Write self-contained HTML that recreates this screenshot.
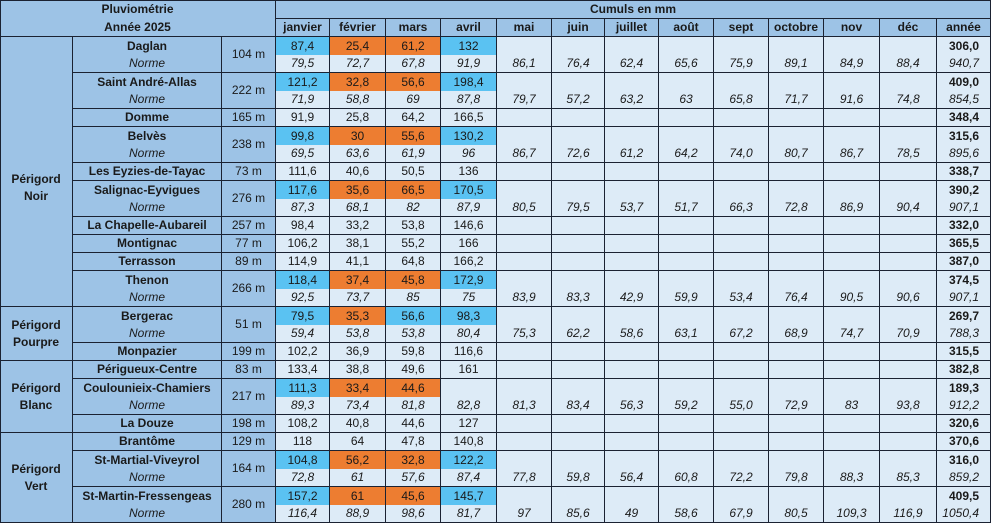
<!DOCTYPE html>
<html><head><meta charset="utf-8">
<style>
body{margin:0;background:#fff;width:992px;height:525px;overflow:hidden;font-family:"Liberation Sans",Arial,sans-serif;font-size:12px;color:#1a1a1a;position:relative}
.g{position:absolute;left:0;top:0;display:grid;grid-template-columns:73px 149px 54px 54px 56px 55px 56px 55px 53px 54px 55px 55px 55px 56px 57px 54px;grid-template-rows:19px 18px repeat(27,18px);}
.g>div{box-sizing:border-box;border-right:1px solid #1b2232;border-bottom:1px solid #1b2232;display:flex;align-items:center;justify-content:center;white-space:nowrap;line-height:17px;overflow:hidden;text-align:center}
.g>div.x{border-bottom:none}
.h{background:#9dc3e6;font-weight:bold}
.s{background:#9dc3e6}
.d{background:#ddebf7}
.u{background:#5ac2f2}
.o{background:#ed7d31}
.i{font-style:italic}
.b{font-weight:bold}
.r{grid-row:span 2}
.g>div.m{align-items:flex-end}
.g>div.t{justify-content:flex-end;padding-right:11px}
.ln{position:absolute;background:#1b2232}
</style></head><body>
<div class="g">
<div class="h x" style="grid-column:span 3">Pluviométrie</div>
<div class="h" style="grid-column:span 13">Cumuls en mm</div>
<div class="h" style="grid-column:span 3">Année 2025</div>
<div class="h">janvier</div><div class="h">février</div><div class="h">mars</div><div class="h">avril</div><div class="h">mai</div><div class="h">juin</div><div class="h">juillet</div><div class="h">août</div><div class="h">sept</div><div class="h">octobre</div><div class="h">nov</div><div class="h">déc</div><div class="h">année</div>

<div class="s b" style="grid-row:span 15;padding-top:32px">Périgord<br>Noir</div>
<!-- Daglan -->
<div class="s b x">Daglan</div><div class="s r">104 m</div><div class="u x">87,4</div><div class="o x">25,4</div><div class="o x">61,2</div><div class="u x">132</div>
<div class="d i r m">86,1</div><div class="d i r m">76,4</div><div class="d i r m">62,4</div><div class="d i r m">65,6</div><div class="d i r m">75,9</div><div class="d i r m">89,1</div><div class="d i r m">84,9</div><div class="d i r m">88,4</div><div class="d b t x">306,0</div>
<div class="s i">Norme</div><div class="d i">79,5</div><div class="d i">72,7</div><div class="d i">67,8</div><div class="d i">91,9</div><div class="d i t">940,7</div>
<!-- Saint André -->
<div class="s b x">Saint André-Allas</div><div class="s r">222 m</div><div class="u x">121,2</div><div class="o x">32,8</div><div class="o x">56,6</div><div class="u x">198,4</div>
<div class="d i r m">79,7</div><div class="d i r m">57,2</div><div class="d i r m">63,2</div><div class="d i r m">63</div><div class="d i r m">65,8</div><div class="d i r m">71,7</div><div class="d i r m">91,6</div><div class="d i r m">74,8</div><div class="d b t x">409,0</div>
<div class="s i">Norme</div><div class="d i">71,9</div><div class="d i">58,8</div><div class="d i">69</div><div class="d i">87,8</div><div class="d i t">854,5</div>
<!-- Domme -->
<div class="s b">Domme</div><div class="s">165 m</div><div class="d">91,9</div><div class="d">25,8</div><div class="d">64,2</div><div class="d">166,5</div>
<div class="d"></div><div class="d"></div><div class="d"></div><div class="d"></div><div class="d"></div><div class="d"></div><div class="d"></div><div class="d"></div><div class="d b t">348,4</div>
<!-- Belvès -->
<div class="s b x">Belvès</div><div class="s r">238 m</div><div class="u x">99,8</div><div class="o x">30</div><div class="o x">55,6</div><div class="u x">130,2</div>
<div class="d i r m">86,7</div><div class="d i r m">72,6</div><div class="d i r m">61,2</div><div class="d i r m">64,2</div><div class="d i r m">74,0</div><div class="d i r m">80,7</div><div class="d i r m">86,7</div><div class="d i r m">78,5</div><div class="d b t x">315,6</div>
<div class="s i">Norme</div><div class="d i">69,5</div><div class="d i">63,6</div><div class="d i">61,9</div><div class="d i">96</div><div class="d i t">895,6</div>
<!-- Les Eyzies -->
<div class="s b">Les Eyzies-de-Tayac</div><div class="s">73 m</div><div class="d">111,6</div><div class="d">40,6</div><div class="d">50,5</div><div class="d">136</div>
<div class="d"></div><div class="d"></div><div class="d"></div><div class="d"></div><div class="d"></div><div class="d"></div><div class="d"></div><div class="d"></div><div class="d b t">338,7</div>
<!-- Salignac -->
<div class="s b x">Salignac-Eyvigues</div><div class="s r">276 m</div><div class="u x">117,6</div><div class="o x">35,6</div><div class="o x">66,5</div><div class="u x">170,5</div>
<div class="d i r m">80,5</div><div class="d i r m">79,5</div><div class="d i r m">53,7</div><div class="d i r m">51,7</div><div class="d i r m">66,3</div><div class="d i r m">72,8</div><div class="d i r m">86,9</div><div class="d i r m">90,4</div><div class="d b t x">390,2</div>
<div class="s i">Norme</div><div class="d i">87,3</div><div class="d i">68,1</div><div class="d i">82</div><div class="d i">87,9</div><div class="d i t">907,1</div>
<!-- La Chapelle -->
<div class="s b">La Chapelle-Aubareil</div><div class="s">257 m</div><div class="d">98,4</div><div class="d">33,2</div><div class="d">53,8</div><div class="d">146,6</div>
<div class="d"></div><div class="d"></div><div class="d"></div><div class="d"></div><div class="d"></div><div class="d"></div><div class="d"></div><div class="d"></div><div class="d b t">332,0</div>
<!-- Montignac -->
<div class="s b">Montignac</div><div class="s">77 m</div><div class="d">106,2</div><div class="d">38,1</div><div class="d">55,2</div><div class="d">166</div>
<div class="d"></div><div class="d"></div><div class="d"></div><div class="d"></div><div class="d"></div><div class="d"></div><div class="d"></div><div class="d"></div><div class="d b t">365,5</div>
<!-- Terrasson -->
<div class="s b">Terrasson</div><div class="s">89 m</div><div class="d">114,9</div><div class="d">41,1</div><div class="d">64,8</div><div class="d">166,2</div>
<div class="d"></div><div class="d"></div><div class="d"></div><div class="d"></div><div class="d"></div><div class="d"></div><div class="d"></div><div class="d"></div><div class="d b t">387,0</div>
<!-- Thenon -->
<div class="s b x">Thenon</div><div class="s r">266 m</div><div class="u x">118,4</div><div class="o x">37,4</div><div class="o x">45,8</div><div class="u x">172,9</div>
<div class="d i r m">83,9</div><div class="d i r m">83,3</div><div class="d i r m">42,9</div><div class="d i r m">59,9</div><div class="d i r m">53,4</div><div class="d i r m">76,4</div><div class="d i r m">90,5</div><div class="d i r m">90,6</div><div class="d b t x">374,5</div>
<div class="s i">Norme</div><div class="d i">92,5</div><div class="d i">73,7</div><div class="d i">85</div><div class="d i">75</div><div class="d i t">907,1</div>

<div class="s b" style="grid-row:span 3">Périgord<br>Pourpre</div>
<!-- Bergerac -->
<div class="s b x">Bergerac</div><div class="s r">51 m</div><div class="u x">79,5</div><div class="o x">35,3</div><div class="u x">56,6</div><div class="u x">98,3</div>
<div class="d i r m">75,3</div><div class="d i r m">62,2</div><div class="d i r m">58,6</div><div class="d i r m">63,1</div><div class="d i r m">67,2</div><div class="d i r m">68,9</div><div class="d i r m">74,7</div><div class="d i r m">70,9</div><div class="d b t x">269,7</div>
<div class="s i">Norme</div><div class="d i">59,4</div><div class="d i">53,8</div><div class="d i">53,8</div><div class="d i">80,4</div><div class="d i t">788,3</div>
<!-- Monpazier -->
<div class="s b">Monpazier</div><div class="s">199 m</div><div class="d">102,2</div><div class="d">36,9</div><div class="d">59,8</div><div class="d">116,6</div>
<div class="d"></div><div class="d"></div><div class="d"></div><div class="d"></div><div class="d"></div><div class="d"></div><div class="d"></div><div class="d"></div><div class="d b t">315,5</div>

<div class="s b" style="grid-row:span 4">Périgord<br>Blanc</div>
<!-- Périgueux -->
<div class="s b">Périgueux-Centre</div><div class="s">83 m</div><div class="d">133,4</div><div class="d">38,8</div><div class="d">49,6</div><div class="d">161</div>
<div class="d"></div><div class="d"></div><div class="d"></div><div class="d"></div><div class="d"></div><div class="d"></div><div class="d"></div><div class="d"></div><div class="d b t">382,8</div>
<!-- Coulounieix -->
<div class="s b x">Coulounieix-Chamiers</div><div class="s r">217 m</div><div class="u x">111,3</div><div class="o x">33,4</div><div class="o x">44,6</div><div class="d x"></div>
<div class="d i r m">81,3</div><div class="d i r m">83,4</div><div class="d i r m">56,3</div><div class="d i r m">59,2</div><div class="d i r m">55,0</div><div class="d i r m">72,9</div><div class="d i r m">83</div><div class="d i r m">93,8</div><div class="d b t x">189,3</div>
<div class="s i">Norme</div><div class="d i">89,3</div><div class="d i">73,4</div><div class="d i">81,8</div><div class="d i">82,8</div><div class="d i t">912,2</div>
<!-- La Douze -->
<div class="s b">La Douze</div><div class="s">198 m</div><div class="d">108,2</div><div class="d">40,8</div><div class="d">44,6</div><div class="d">127</div>
<div class="d"></div><div class="d"></div><div class="d"></div><div class="d"></div><div class="d"></div><div class="d"></div><div class="d"></div><div class="d"></div><div class="d b t">320,6</div>

<div class="s b" style="grid-row:span 5">Périgord<br>Vert</div>
<!-- Brantôme -->
<div class="s b">Brantôme</div><div class="s">129 m</div><div class="d">118</div><div class="d">64</div><div class="d">47,8</div><div class="d">140,8</div>
<div class="d"></div><div class="d"></div><div class="d"></div><div class="d"></div><div class="d"></div><div class="d"></div><div class="d"></div><div class="d"></div><div class="d b t">370,6</div>
<!-- St-Martial -->
<div class="s b x">St-Martial-Viveyrol</div><div class="s r">164 m</div><div class="u x">104,8</div><div class="o x">56,2</div><div class="o x">32,8</div><div class="u x">122,2</div>
<div class="d i r m">77,8</div><div class="d i r m">59,8</div><div class="d i r m">56,4</div><div class="d i r m">60,8</div><div class="d i r m">72,2</div><div class="d i r m">79,8</div><div class="d i r m">88,3</div><div class="d i r m">85,3</div><div class="d b t x">316,0</div>
<div class="s i">Norme</div><div class="d i">72,8</div><div class="d i">61</div><div class="d i">57,6</div><div class="d i">87,4</div><div class="d i t">859,2</div>
<!-- St-Martin -->
<div class="s b x">St-Martin-Fressengeas</div><div class="s r">280 m</div><div class="u x">157,2</div><div class="o x">61</div><div class="o x">45,6</div><div class="u x">145,7</div>
<div class="d i r m">97</div><div class="d i r m">85,6</div><div class="d i r m">49</div><div class="d i r m">58,6</div><div class="d i r m">67,9</div><div class="d i r m">80,5</div><div class="d i r m">109,3</div><div class="d i r m">116,9</div><div class="d b t x">409,5</div>
<div class="s i">Norme</div><div class="d i">116,4</div><div class="d i">88,9</div><div class="d i">98,6</div><div class="d i">81,7</div><div class="d i t">1050,4</div>
</div>
<div class="ln" style="left:0;top:0;width:991px;height:1px"></div>
<div class="ln" style="left:0;top:0;width:1px;height:523px"></div>
</body></html>
